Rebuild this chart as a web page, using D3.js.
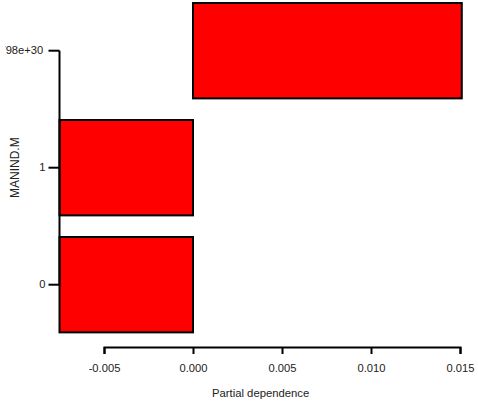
<!DOCTYPE html>
<html>
<head>
<meta charset="utf-8">
<script src="https://cdn.jsdelivr.net/npm/d3@7"></script>
<style>
  body { margin: 0; background: #fff; }
  svg { display: block; }
  text { font-family: "Liberation Sans", Arial, Helvetica, sans-serif; fill: #222; }
</style>
</head>
<body>
<svg id="chart" width="478" height="404"></svg>
<script>
// Partial dependence of the response on MANIND.M, one bar per level
const categories = ["0", "1", "1.798e+308"];
const dependence = [-0.0075, -0.0075, 0.0151];
const xTicks = [-0.005, 0.000, 0.005, 0.010, 0.015];
const xTitle = "Partial dependence";
const yTitle = "MANIND.M";

const svg = d3.select("#chart");

const x = d3.scaleLinear().domain([-0.005, 0.015]).range([104, 460]);
const y = d3.scaleBand()
  .domain(categories)
  .range([343.2, -7.8])
  .paddingInner(0.185)
  .paddingOuter(0.0925);

const rows = categories.map((c, i) => ({ cat: c, value: dependence[i] }));
const panelLeft = x(d3.min(dependence));

// bars, drawn from zero to each level's value
svg.append("g")
  .selectAll("rect")
  .data(rows)
  .join("rect")
  .attr("x", d => x(Math.min(0, d.value)))
  .attr("width", d => Math.abs(x(d.value) - x(0)))
  .attr("y", d => y(d.cat))
  .attr("height", y.bandwidth())
  .attr("fill", "#ff0000")
  .attr("stroke", "#000")
  .attr("stroke-width", 2);

// x axis
const xAxis = svg.append("g")
  .attr("transform", "translate(0,347)")
  .call(d3.axisBottom(x)
    .tickValues(xTicks)
    .tickFormat(d => d.toFixed(3))
    .tickSizeOuter(0)
    .tickSize(7)
    .tickPadding(10));
xAxis.select(".domain").attr("stroke", "#000").attr("stroke-width", 2);
xAxis.selectAll(".tick line").attr("stroke", "#000").attr("stroke-width", 2);
xAxis.selectAll(".tick text").attr("font-size", 11.2).attr("font-family", null).style("fill", "#222");

// y axis: line spans the first to the last level
const yAxis = svg.append("g")
  .attr("transform", `translate(${panelLeft},0)`)
  .call(d3.axisLeft(y).tickSizeOuter(0).tickSize(11).tickPadding(3));
const centers = categories.map(c => y(c) + y.bandwidth() / 2);
yAxis.select(".domain")
  .attr("d", `M0,${d3.max(centers)}V${d3.min(centers)}`)
  .attr("stroke", "#000").attr("stroke-width", 2);
yAxis.selectAll(".tick line").attr("stroke", "#000").attr("stroke-width", 2);
yAxis.selectAll(".tick text")
  .attr("font-size", 11.2)
  .attr("font-family", null)
  .attr("text-anchor", "end")
  .style("fill", "#222");

// the long level label overflows the left margin and is cut by its label box
svg.append("defs").append("clipPath").attr("id", "labelClip")
  .append("rect").attr("x", 5).attr("y", 0).attr("width", 38.2).attr("height", 404);
yAxis.selectAll(".tick")
  .filter(d => d === categories[categories.length - 1])
  .each(function () {
    const tick = d3.select(this);
    const label = tick.select("text").attr("x", -10);
    const wrap = svg.append("g").attr("clip-path", "url(#labelClip)")
      .append("g").attr("transform", `translate(${panelLeft},0) ${tick.attr("transform")}`);
    wrap.node().appendChild(label.node());
  });

// axis titles
svg.append("text")
  .attr("x", (panelLeft + x(d3.max(dependence))) / 2)
  .attr("y", 396.5)
  .attr("text-anchor", "middle")
  .attr("font-size", 11.3)
  .text(xTitle);

svg.append("text")
  .attr("transform", `translate(19,${(y.range()[0] + y.range()[1]) / 2}) rotate(-90)`)
  .attr("text-anchor", "middle")
  .attr("font-size", 12)
  .text(yTitle);
</script>
</body>
</html>
